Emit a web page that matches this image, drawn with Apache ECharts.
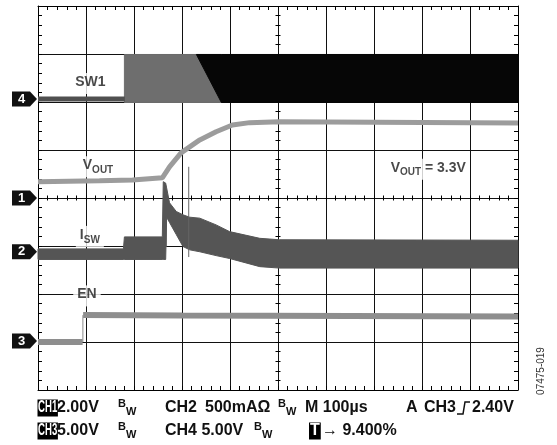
<!DOCTYPE html>
<html><head><meta charset="utf-8">
<script src="https://cdn.jsdelivr.net/npm/echarts@6/dist/echarts.min.js"></script>
<style>html,body{margin:0;padding:0;background:#fff}#c{width:557px;height:445px}</style>
</head><body><div id="c"></div>
<script>
// Time in µs (100 µs/div); levels in screen divisions counted from the bottom (0..8)
const vOutTime  = [0, 128, 197, 259, 274, 298, 337, 371, 405, 441, 503, 1000];
const vOutLevel = [4.34, 4.36, 4.375, 4.42, 4.65, 4.94, 5.21, 5.38, 5.52, 5.57, 5.59, 5.56];

const enLowTime   = [0, 93];
const enLowLevel  = [1.0, 1.0];
const enHighTime  = [94, 300, 1000];
const enHighLevel = [1.56, 1.55, 1.53];
const enEdgeTime  = [93.5, 93.5];
const enEdgeLevel = [1.0, 1.56];

const iswTime = [0, 178, 180, 259, 261, 266, 268, 274, 288, 302, 316, 337, 371, 399, 462, 503, 1000];
const iswLow  = [2.72, 2.72, 2.72, 2.72, 2.72, 2.72, 3.60, 3.49, 3.24, 2.99, 2.92, 2.88, 2.80, 2.74, 2.57, 2.54, 2.54];
const iswHigh = [2.94, 2.94, 3.19, 3.19, 4.34, 4.31, 4.21, 3.90, 3.72, 3.65, 3.60, 3.58, 3.44, 3.30, 3.16, 3.13, 3.12];
const iswEdgeTime  = [267, 267];
const iswEdgeLevel = [2.98, 3.60];
const iswSpikeTime  = [314, 314];
const iswSpikeLevel = [2.77, 4.65];

const swIdleTime  = [0, 181];
const swIdleLevel = [6.06, 6.06];
const swGrayTime  = [180, 382];
const swGrayLow   = [5.99, 5.99];
const swGrayHigh  = [6.99, 6.99];
const swBlackTime = [330, 382, 1000];
const swBlackLow  = [6.99, 5.99, 5.99];
const swBlackHigh = [6.99, 6.99, 6.99];

const markerNames  = ['4', '1', '2', '3'];
const markerLevels = [6.06, 4.0, 2.88, 1.02];

const annoTexts  = ['{m|SW1}', '{m|V}{s|OUT}', '{m|I}{s|SW}', '{m|EN}', '{m|V}{s|OUT}{m| = 3.3V}'];
const annoTimes  = [109, 125, 108, 102, 813];
const annoLevels = [6.385, 4.65, 3.20, 1.96, 4.6];

const footerRow1 = [
  ['2.00V', 57], ['{b|B}{w|W}', 118], ['CH2', 165], ['500mAΩ', 205],
  ['{b|B}{w|W}', 278], ['M 100µs', 305], ['A', 406], ['CH3', 424], ['2.40V', 472]
];
const footerRow2 = [
  ['5.00V', 57], ['{b|B}{w|W}', 118], ['CH4 5.00V', 165],
  ['{b|B}{w|W}', 254], ['\u2192 9.400%', 322]
];
const footerBoxes = [['CH1', 37.5, 0, 0.6], ['CH3', 37.5, 1, 0.6], ['T', 309, 1, 1]];
const figureId = '07475-019';

const FONT = '"Liberation Sans", Arial, Helvetica, sans-serif';
const chart = echarts.init(document.getElementById('c'), null, {renderer: 'canvas'});

function pairs(t, v) { return t.map((x, i) => [x, v[i]]); }
function trace(name, t, v, color, width, z) {
  return {type: 'line', name, data: pairs(t, v), symbol: 'none', showSymbol: false,
    lineStyle: {color, width, cap: 'butt'}, silent: true, animation: false, z: z || 3};
}
function band(name, t, low, high, color, z) {
  return {type: 'custom', name, silent: true, animation: false, z: z || 3,
    data: t.map((x, i) => [x, low[i], high[i]]),
    encode: {x: 0, y: [1, 2]},
    renderItem: function (params, api) {
      if (params.dataIndex !== 0) return;
      const top = [], bot = [];
      for (let i = 0; i < t.length; i++) {
        top.push(api.coord([t[i], high[i]]));
        bot.push(api.coord([t[i], low[i]]));
      }
      return {type: 'polygon', shape: {points: top.concat(bot.reverse())},
        style: {fill: color, stroke: color, lineWidth: 1}};
    }};
}

const gridColor = '#111';
function xAx(pos, opt) {
  return Object.assign({type: 'value', min: 0, max: 1000, interval: 100, position: pos,
    axisLine: {show: true, onZero: false, lineStyle: {color: '#000', width: 1}},
    axisTick: {show: true, inside: true, length: 4, lineStyle: {color: '#000'}},
    minorTick: {show: true, splitNumber: 5, length: 4, lineStyle: {color: '#000'}},
    axisLabel: {show: false}, splitLine: {show: false}}, opt || {});
}
function yAx(pos, opt) {
  return Object.assign({type: 'value', min: 0, max: 8, interval: 1, position: pos,
    axisLine: {show: true, onZero: false, lineStyle: {color: '#000', width: 1}},
    axisTick: {show: true, inside: true, length: 4, lineStyle: {color: '#000'}},
    minorTick: {show: true, splitNumber: 5, length: 4, lineStyle: {color: '#000'}},
    axisLabel: {show: false}, splitLine: {show: false}}, opt || {});
}
const centerTick = (inside) => ({offset: 0, axisLine: {show: false},
  axisTick: {show: true, inside, length: 2.5, lineStyle: {color: '#000'}},
  minorTick: {show: true, splitNumber: 5, length: 2.5, lineStyle: {color: '#000'}}});

const rowY = [408, 431];
const footerRich = {
  b: {fontSize: 11, fontWeight: 'bold', fontFamily: FONT, verticalAlign: 'top', lineHeight: 19, fill: '#111'},
  w: {fontSize: 11, fontWeight: 'bold', fontFamily: FONT, verticalAlign: 'bottom', fill: '#111'}
};
const graphics = [];
[footerRow1, footerRow2].forEach((row, r) => row.forEach(([txt, x]) => {
  graphics.push({type: 'text', x: x, y: rowY[r], silent: true,
    style: {text: txt, fill: '#111', font: 'bold 16px ' + FONT, verticalAlign: 'middle', textVerticalAlign: 'middle', rich: footerRich}});
}));
footerBoxes.forEach(([txt, x, r, sx]) => {
  graphics.push({type: 'text', x: x, y: rowY[r], scaleX: sx, silent: true,
    style: {text: txt, fill: '#fff', font: 'bold 16px ' + FONT, backgroundColor: '#000', padding: [1, 1, 0, 1],
      verticalAlign: 'middle', textVerticalAlign: 'middle'}});
});
graphics.push({type: 'polyline', silent: true,
  shape: {points: [[457, 414], [463, 414], [465, 402], [470, 402]]},
  style: {stroke: '#111', lineWidth: 1.5, fill: null}});
graphics.push({type: 'text', x: 541, y: 371, rotation: Math.PI / 2, silent: true,
  style: {text: figureId, fill: '#333', font: '10px ' + FONT, align: 'center', textAlign: 'center', verticalAlign: 'middle', textVerticalAlign: 'middle'}});

const cx = centerTick(true), cx2 = centerTick(false);
chart.setOption({
  animation: false,
  backgroundColor: '#fff',
  grid: {left: 38, top: 6, width: 480, height: 384, containLabel: false},
  xAxis: [
    xAx('bottom', {splitLine: {show: true, lineStyle: {color: gridColor, width: 1}}}),
    xAx('top'),
    xAx('bottom', Object.assign({}, cx, {offset: -192})),
    xAx('bottom', Object.assign({}, cx2, {offset: -192}))
  ],
  yAxis: [
    yAx('left', {splitLine: {show: true, lineStyle: {color: gridColor, width: 1}}}),
    yAx('right'),
    yAx('left', Object.assign({}, cx, {offset: -240})),
    yAx('left', Object.assign({}, cx2, {offset: -240}))
  ],
  series: [
    trace('SW1 idle', swIdleTime, swIdleLevel, '#505050', 5),
    band('SW1 gray', swGrayTime, swGrayLow, swGrayHigh, '#6e6e6e'),
    band('SW1 black', swBlackTime, swBlackLow, swBlackHigh, '#060606'),
    trace('VOUT', vOutTime, vOutLevel, '#9c9c9c', 5),
    band('ISW', iswTime, iswLow, iswHigh, '#555555', 4),
    trace('ISW edge', iswEdgeTime, iswEdgeLevel, '#555555', 1, 4),
    trace('ISW spike', iswSpikeTime, iswSpikeLevel, '#666666', 1, 4),
    trace('EN low', enLowTime, enLowLevel, '#8e8e8e', 6),
    trace('EN high', enHighTime, enHighLevel, '#8e8e8e', 6),
    trace('EN edge', enEdgeTime, enEdgeLevel, '#8e8e8e', 1),
    {type: 'scatter', name: 'markers', silent: true, animation: false, clip: false, z: 6,
      data: markerLevels.map((v, i) => ({value: [0, v], name: markerNames[i]})),
      symbol: 'path://M0,0 L18,0 L25,7.5 L18,15 L0,15 Z', symbolSize: [25, 15], symbolOffset: [-13.5, 0],
      itemStyle: {color: '#111', opacity: 1},
      label: {show: true, position: 'inside', formatter: p => p.name, color: '#fff', fontWeight: 'bold', fontSize: 13, fontFamily: FONT, offset: [-3, 0]}},
    {type: 'scatter', name: 'annotations', silent: true, animation: false, clip: false, z: 5,
      data: annoTimes.map((t, i) => ({value: [t, annoLevels[i]], name: annoTexts[i]})),
      symbolSize: 1, itemStyle: {color: 'rgba(0,0,0,0)'},
      label: {show: true, position: 'inside', formatter: p => p.name, backgroundColor: '#fff', padding: [2, 4],
        rich: {
          m: {fontSize: 14, fontWeight: 'bold', fontFamily: FONT, color: '#1a1a1a', lineHeight: 17, verticalAlign: 'top'},
          s: {fontSize: 10, fontWeight: 'bold', fontFamily: FONT, color: '#1a1a1a', verticalAlign: 'bottom'}
        }}}
  ],
  graphic: graphics
});
</script></body></html>
